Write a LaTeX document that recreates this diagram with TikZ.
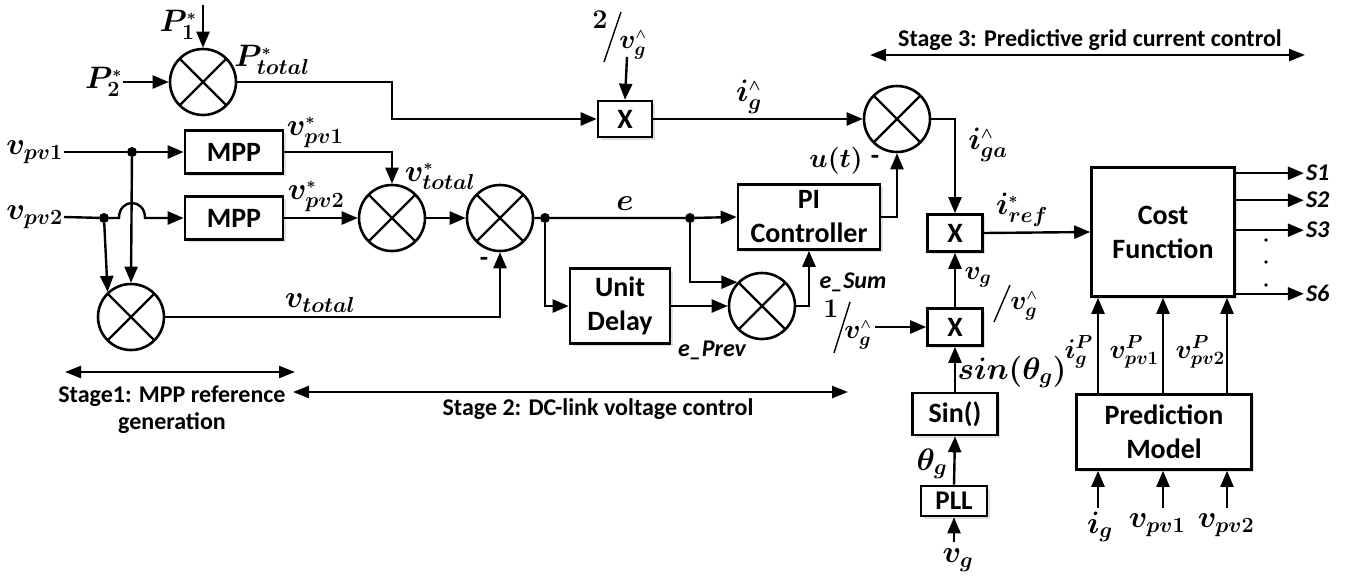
\documentclass[tikz,border=0pt]{standalone}
\usepackage{fix-cm}
\usepackage{amsmath,bm}
\usepackage{fontspec}
\setmainfont{Carlito}
\usetikzlibrary{arrows.meta,calc,shadows}
\newcommand{\hh}{{\scriptscriptstyle\wedge}}
\newcommand{\st}{{\scriptscriptstyle *}}
\begin{document}
\begin{tikzpicture}[x=1pt,y=-1pt,
  sig/.style={line width=2.4pt,-{Triangle[length=16pt,width=13pt]}},
  twoway/.style={line width=2.4pt,{Triangle[length=16pt,width=12pt]}-{Triangle[length=16pt,width=12pt]}},
  blk/.style={draw,fill=white,line width=2.6pt,inner sep=0pt,align=center,font=\fontsize{28}{34}\selectfont\bfseries,
    drop shadow={shadow xshift=2.5pt,shadow yshift=-2.5pt,opacity=0.25}},
  mult/.style={circle,draw,line width=2.6pt,minimum size=66pt,inner sep=0pt,
    path picture={\draw[line width=2.4pt] (path picture bounding box.north west)--(path picture bounding box.south east)
      (path picture bounding box.north east)--(path picture bounding box.south west);}},
  lbl/.style={inner sep=1pt,font=\fontsize{31}{33}\selectfont},
  slbl/.style={inner sep=1pt,font=\fontsize{27}{29}\selectfont},
  tlbl/.style={inner sep=1pt,font=\fontsize{24}{26}\selectfont\bfseries\itshape},
  jdot/.style={circle,fill,inner sep=0pt,minimum size=10pt},
  stg/.style={inner sep=1pt,font=\fontsize{24}{27}\selectfont\bfseries,align=center}]
\useasboundingbox (0,0) rectangle (1347,579);

% ---------------- blocks
\node[mult] (s1) at (203,82) {};
\node[mult] (s2) at (392,218) {};
\node[mult] (s3) at (500,218) {};
\node[mult] (s4) at (131,317) {};
\node[mult] (s5) at (762,306) {};
\node[mult] (s6) at (897,119) {};
\node[blk,minimum width=98pt,minimum height=43pt] (mpp1) at (234,152) {MPP};
\node[blk,minimum width=98pt,minimum height=43pt] (mpp2) at (234,218) {MPP};
\node[blk,minimum width=54pt,minimum height=36pt] (xa) at (625,119) {X};
\node[blk,minimum width=142pt,minimum height=65pt] (pi) at (809,217) {PI\\Controller};
\node[blk,minimum width=100pt,minimum height=75pt] (ud) at (620,306) {Unit\\Delay};
\node[blk,minimum width=55pt,minimum height=37pt] (xb) at (955,233) {X};
\node[blk,minimum width=55pt,minimum height=37pt] (xc) at (955,327) {X};
\node[blk,minimum width=85pt,minimum height=42pt] (sinb) at (955,414) {Sin()};
\node[blk,minimum width=66pt,minimum height=30pt,font=\fontsize{27}{29}\selectfont\bfseries] (pll) at (954,501) {PLL};
\node[blk,minimum width=143pt,minimum height=129pt] (cf) at (1163,232) {Cost\\Function};
\node[blk,minimum width=175pt,minimum height=75pt] (pm) at (1164,432) {Prediction\\Model};

% ---------------- input labels / coordinates
\coordinate (p1in) at (203,5);
\node[lbl] (p1) at (178,25) {$\bm{P_1^\st}$};
\node[lbl,anchor=east] (p2) at (123,82) {$\bm{P_2^\st}$};
\node[lbl,anchor=east] (vpv1) at (64,152) {$\bm{v_{pv1}}$};
\node[lbl,anchor=east] (vpv2) at (64,217) {$\bm{v_{pv2}}$};
\node[jdot] (d1) at (132,152) {};
\node[jdot] (d2) at (104,218) {};
\node[jdot] (e1) at (545,218) {};
\node[jdot] (e2) at (690,218) {};

% ---------------- stage 1 connections
\draw[sig] (p1in) -- (s1.north);
\draw[sig] (p2.east) -- (s1.west);
\draw[sig] (vpv1.east) -- (d1) -- (mpp1.west);
\draw[sig] (vpv2.east) -- (d2) -- (119,218) .. controls (119,198) and (145,198) .. (145,218) -- (mpp2.west);
\draw[sig] (d1) -- (s4.north);
\draw[sig] (d2) -- (s4.133);
\draw[sig] (mpp1.east) -| (s2.north);
\draw[sig] (mpp2.east) -- (s2.west);

% ---------------- stage 2 connections
\draw[sig] (s2.east) -- (s3.west);
\draw[sig] (s4.east) -| (s3.south);
\draw[sig] (s3.east) -- (e1) -- (e2) -- (pi.west);
\draw[sig] (e1) |- (ud.west);
\draw[sig] (ud.east) -- (s5.west);
\draw[sig] (e2) |- (s5.136);
\draw[sig] (s5.east) -| (pi.south);

% ---------------- stage 3 connections
\draw[sig] (s1.east) -| (392,119) -- (xa.west);
\coordinate (twoin) at (627,57);
\draw[sig] (twoin) -- (xa.north);
\draw[sig] (xa.east) -- (s6.west);
\draw[sig] (pi.east) -| (s6.south);
\draw[sig] (s6.east) -| (xb.north);
\draw[sig] (xb.east) -- (cf.west);
\draw[sig] (xc.north) -- (xb.south);
\coordinate (onein) at (875,327);
\draw[sig] (onein) -- (xc.west);
\draw[sig] (sinb.north) -- (xc.south);
\draw[sig] (pll.north) -- (sinb.south);
\coordinate (vgin) at (954,542);
\draw[sig] (vgin) -- (pll.south);

% cost function outputs
\draw[sig] ([yshift=-7pt]cf.north east) -- ++(68,0) node[tlbl,anchor=west] (o1) {S1};
\draw[sig] ([yshift=-34pt]cf.north east) -- ++(68,0) node[tlbl,anchor=west] (o2) {S2};
\draw[sig] ([yshift=-64pt]cf.north east) -- ++(68,0) node[tlbl,anchor=west] (o3) {S3};
\draw[sig] ([yshift=4pt]cf.south east) -- ++(68,0) node[tlbl,anchor=west] (o6) {S6};
\foreach \yy in {240,262,285} \fill (1266,\yy) circle (1.8pt);

% prediction model
\coordinate (c1) at (1098,508);
\coordinate (c2) at (1163,508);
\coordinate (c3) at (1227,508);
\draw[sig] (pm.north -| c1) -- (cf.south -| c1);
\draw[sig] (pm.north -| c2) -- (cf.south -| c2);
\draw[sig] (pm.north -| c3) -- (cf.south -| c3);
\draw[sig] (c1) -- (pm.south -| c1);
\draw[sig] (c2) -- (pm.south -| c2);
\draw[sig] (c3) -- (pm.south -| c3);

% ---------------- signal labels
\node[lbl] (lpt) at (272,60) {$\bm{P^\st_{total}}$};
\node[lbl] (lv1) at (315,132) {$\bm{v^\st_{pv1}}$};
\node[lbl] (lv2) at (316,196) {$\bm{v^\st_{pv2}}$};
\node[lbl] (lvts) at (440,176) {$\bm{v^\st_{total}}$};
\node[lbl] (lvt) at (320,303) {$\bm{v_{total}}$};
\node[lbl] (le) at (625,204) {$\bm{e}$};
\node[slbl] (lm1) at (484,262) {\textbf{-}};
\node[tlbl] (lep) at (712,350) {e\_Prev};
\node[tlbl] (les) at (853,282) {e\_Sum};
\node[slbl] (lu) at (836,161) {$\bm{u(t)}$};
\node[slbl] (lm2) at (875,160) {\textbf{-}};
\node[lbl] (lig) at (749,97) {$\bm{i^{\hh}_{g}}$};
\node[lbl] (liga) at (988,145) {$\bm{i^{\hh}_{ga}}$};
\node[lbl] (liref) at (1022,210) {$\bm{i^{\st}_{ref}}$};
\node[lbl] (lsin) at (1012,372) {$\bm{sin(\theta_g)}$};
\node[lbl] (lth) at (932,464) {$\bm{\theta_g}$};
\node[lbl] (lvg) at (958,560) {$\bm{v_g}$};
\node[slbl,anchor=east] (ligp) at (1094,352) {$\bm{i^{P}_{g}}$};
\node[slbl,anchor=east] (lvp1) at (1160,352) {$\bm{v^{P}_{pv1}}$};
\node[slbl,anchor=east] (lvp2) at (1226,352) {$\bm{v^{P}_{pv2}}$};
\node[lbl] (lig2) at (1100,527) {$\bm{i_g}$};
\node[lbl] (lvi1) at (1157,525) {$\bm{v_{pv1}}$};
\node[lbl] (lvi2) at (1226,525) {$\bm{v_{pv2}}$};

% fraction style labels
\node[slbl] (n2) at (600,20) {$\bm{2}$};
\draw[line width=1.4pt] (621,12) -- (604,62);
\node[slbl] (d2v) at (633,45) {$\bm{v^{\hh}_{g}}$};
\node[slbl] (n1) at (831,309) {$\bm{1}$};
\draw[line width=1.4pt] (850,302) -- (834,353);
\node[slbl] (d1v) at (858,335) {$\bm{v^{\hh}_{g}}$};
\node[slbl] (nvg) at (978,277) {$\bm{v_{g}}$};
\draw[line width=1.4pt] (1010,285) -- (994,322);
\node[slbl] (dvg) at (1024,306) {$\bm{v^{\hh}_{g}}$};

% ---------------- stages
\coordinate (st1a) at (65,372); \coordinate (st1b) at (295,372);
\draw[twoway] (st1a) -- (st1b);
\node[stg] (st1) at (172,410) {Stage1: MPP reference\\generation};
\coordinate (st2a) at (293,392); \coordinate (st2b) at (848,392);
\draw[twoway] (st2a) -- (st2b);
\node[stg] (st2) at (598,409) {Stage 2: DC-link voltage control};
\coordinate (st3a) at (870,55); \coordinate (st3b) at (1305,55);
\draw[twoway] (st3a) -- (st3b);
\node[stg] (st3) at (1090,40) {Stage 3: Predictive grid current control};
\end{tikzpicture}
\end{document}
